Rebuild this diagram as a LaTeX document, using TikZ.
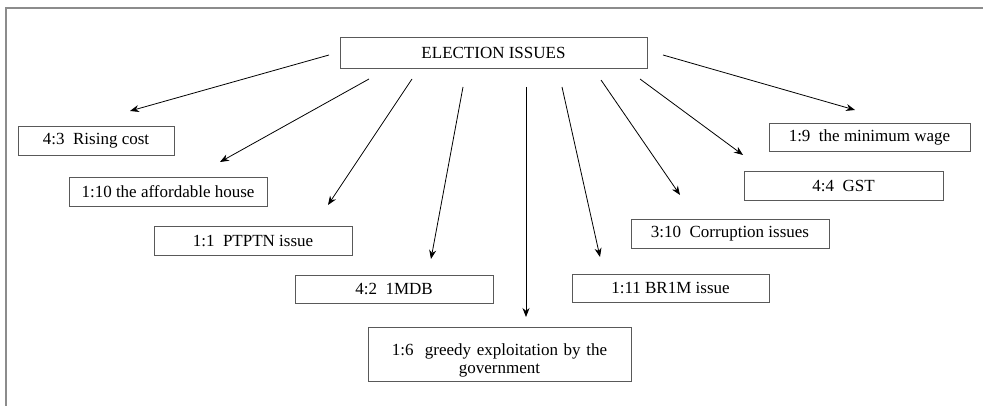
\documentclass[tikz,border=0pt]{standalone}
\usepackage{fontspec}
\setmainfont{Liberation Serif}
\usetikzlibrary{arrows.meta, positioning}

\begin{document}
\begin{tikzpicture}[x=1pt, y=-1pt, font=\fontsize{17}{18}\selectfont]
        \tikzstyle{issue} = [rectangle, minimum width=198pt, minimum height=29pt, text centered, inner sep=0pt, draw=black!65, line width=0.9pt]
        \tikzstyle{arrow} = [line width=0.8pt, -{Stealth[length=9pt, width=7pt]}]

        \useasboundingbox (0,0) rectangle (983,406);
        \draw [black!45, line width=1.6pt] (6,406) -- (6,8) -- (983,8);

        \node (main) [issue, minimum width=307pt, minimum height=31pt] at (493.5,52.5) {ELECTION ISSUES};

        \node (rising) [issue, minimum width=156pt] at (96,140.5) {4:3\ \ Rising cost};
        \node (house) [issue] at (168,191.5) {1:10 the affordable house};
        \node (ptptn) [issue] at (253,240.5) {1:1\ \ PTPTN issue};
        \node (mdb) [issue, minimum height=28pt] at (394,289) {4:2\ \ 1MDB};
        \node (greedy) [issue, minimum width=263pt, minimum height=54pt, text width=250pt, align=center, text depth=9pt] at (499.5,354) {1:6\ \ greedy exploitation by the\\government};
        \node (brim) [issue, minimum width=197pt, minimum height=28pt] at (670.5,288) {1:11 BR1M issue};
        \node (corrupt) [issue] at (730,233.5) {3:10\ \ Corruption issues};
        \node (gst) [issue, minimum width=199pt] at (843.5,185.5) {4:4\ \ GST};
        \node (wage) [issue, minimum width=201pt, minimum height=28pt] at (869.5,137) {1:9\ \ the minimum wage};

        % arrow ends, left free of the boxes
        \coordinate (from-rising) at (329,55);   \coordinate (to-rising) at (130,111);
        \coordinate (from-house) at (369,79);    \coordinate (to-house) at (220,162);
        \coordinate (from-ptptn) at (412,79);    \coordinate (to-ptptn) at (328,205);
        \coordinate (from-mdb) at (463,87);      \coordinate (to-mdb) at (431,259);
        \coordinate (from-greedy) at (526,87);   \coordinate (to-greedy) at (526,317);
        \coordinate (from-brim) at (562,87);     \coordinate (to-brim) at (600,257);
        \coordinate (from-corrupt) at (601,80);  \coordinate (to-corrupt) at (680,195);
        \coordinate (from-gst) at (640,79);      \coordinate (to-gst) at (743,155);
        \coordinate (from-wage) at (663,55);     \coordinate (to-wage) at (855,110);

        \draw [arrow] (from-rising) -- (to-rising);
        \draw [arrow] (from-house) -- (to-house);
        \draw [arrow] (from-ptptn) -- (to-ptptn);
        \draw [arrow] (from-mdb) -- (to-mdb);
        \draw [arrow] (from-greedy) -- (to-greedy);
        \draw [arrow] (from-brim) -- (to-brim);
        \draw [arrow] (from-corrupt) -- (to-corrupt);
        \draw [arrow] (from-gst) -- (to-gst);
        \draw [arrow] (from-wage) -- (to-wage);
    \end{tikzpicture}
\end{document}
